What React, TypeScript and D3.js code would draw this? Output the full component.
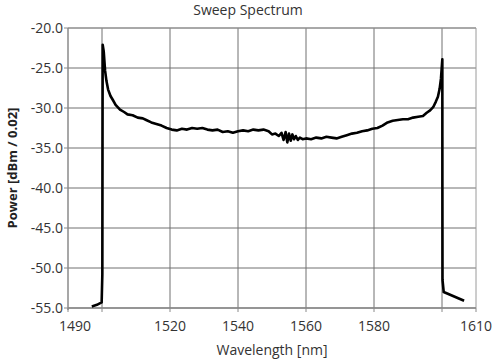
import React from "react";
import * as d3 from "d3";

const title = "Sweep Spectrum";
const xLabel = "Wavelength [nm]";
const yLabel = "Power [dBm / 0.02]";
const xTickLabels = [1490, 1520, 1540, 1560, 1580, 1610];
const xGrid = [1500, 1520, 1540, 1560, 1580, 1600];
const yTicks = [-20, -25, -30, -35, -40, -45, -50, -55];

// wavelength [nm]
const wavelength = [
  1497.0, 1498.5, 1499.9, 1500.1, 1500.15, 1500.2, 1500.5, 1500.9, 1501.3, 1501.8,
  1502.5, 1503.2, 1504.0, 1505.3, 1506.5, 1507.5, 1509.0, 1510.5, 1512.0, 1513.0,
  1514.5, 1516.0, 1517.5, 1519.0, 1520.5, 1522.0, 1523.5, 1525.0, 1526.5, 1528.0,
  1529.5, 1531.0, 1532.5, 1534.0, 1535.5, 1537.0, 1538.5, 1540.0, 1541.5, 1543.0,
  1544.5, 1546.0, 1547.5, 1549.0, 1550.0, 1551.0, 1552.0, 1552.8, 1553.4, 1554.0,
  1554.5, 1555.0, 1555.5, 1556.0, 1556.5, 1557.0, 1557.6, 1558.2, 1559.0, 1560.0,
  1561.5, 1563.0, 1564.5, 1566.0, 1567.5, 1569.0, 1570.5, 1572.0, 1573.5, 1575.0,
  1576.5, 1578.0, 1579.5, 1581.0, 1582.5, 1584.0, 1585.5, 1587.0, 1588.5, 1590.0,
  1591.5, 1593.0, 1594.4, 1595.5, 1596.5, 1597.4, 1598.2, 1598.8, 1599.3, 1599.7,
  1600.1, 1600.12, 1600.15, 1600.5, 1606.5,
];

// power [dBm]
const power = [
  -54.8, -54.6, -54.3, -50.8, -36.0, -22.1, -22.9, -25.3, -26.6, -27.7,
  -28.5, -29.0, -29.6, -30.2, -30.5, -30.8, -30.9, -31.2, -31.3, -31.5,
  -31.8, -32.0, -32.2, -32.5, -32.7, -32.8, -32.6, -32.7, -32.5, -32.6,
  -32.5, -32.7, -32.8, -32.7, -33.0, -32.9, -33.1, -32.9, -32.8, -32.9,
  -32.7, -32.8, -32.7, -32.9, -33.3, -33.2, -33.5, -33.1, -34.0, -33.0,
  -34.3, -33.2, -34.1, -33.3, -33.9, -33.5, -34.0, -33.7, -33.9, -33.8,
  -33.9, -33.7, -33.8, -33.6, -33.7, -33.8, -33.6, -33.4, -33.2, -33.1,
  -32.9, -32.8, -32.6, -32.5, -32.2, -31.8, -31.6, -31.5, -31.4, -31.4,
  -31.2, -31.1, -31.0, -30.6, -30.3, -29.9, -29.2, -28.6, -27.6, -26.3,
  -23.9, -40.0, -51.5, -53.0, -54.1,
];

const W = 500;
const H = 360;
const M = { left: 68, right: 476, top: 28, bottom: 308 };
const FONT = "'Open Sans', 'DejaVu Sans', sans-serif";

export default function App() {
  const x = d3.scaleLinear().domain([1490, 1610]).range([M.left, M.right]);
  const y = d3.scaleLinear().domain([-55, -20]).range([M.bottom, M.top]);
  const pts: [number, number][] = wavelength.map((w, i) => [w, power[i]]);
  const line = d3
    .line<[number, number]>()
    .x((d) => x(d[0]))
    .y((d) => y(d[1]));

  return (
    <svg
      width={W}
      height={H}
      style={{ position: "absolute", left: 0, top: 0, background: "#fff" }}
      fontFamily={FONT}
    >
      <rect x={0} y={0} width={W} height={H} fill="#fff" />
      <text x={248} y={15} textAnchor="middle" fontSize={14} fill="#333">
        {title}
      </text>
      {/* grid */}
      {yTicks.map((t) => (
        <line
          key={"gy" + t}
          x1={M.left}
          x2={M.right}
          y1={y(t)}
          y2={y(t)}
          stroke="#707070"
          strokeWidth={1}
        />
      ))}
      {xGrid.map((t) => (
        <line
          key={"gx" + t}
          x1={x(t)}
          x2={x(t)}
          y1={M.top}
          y2={M.bottom}
          stroke="#707070"
          strokeWidth={1}
        />
      ))}
      {/* frame */}
      <line x1={M.left} x2={M.right} y1={M.top} y2={M.top} stroke="#9a9a9a" />
      <line x1={M.right} x2={M.right} y1={M.top} y2={M.bottom} stroke="#9a9a9a" />
      <line x1={M.left} x2={M.left} y1={M.top} y2={M.bottom + 2} stroke="#8a8a8a" strokeWidth={1.5} />
      <line x1={M.left} x2={M.right} y1={M.bottom} y2={M.bottom} stroke="#8a8a8a" strokeWidth={1.5} />
      {/* y ticks */}
      {yTicks.map((t) => (
        <g key={"ty" + t}>
          <line x1={M.left - 4} x2={M.left} y1={y(t)} y2={y(t)} stroke="#8a8a8a" />
          <text
            x={M.left - 5}
            y={y(t)}
            dy="0.35em"
            textAnchor="end"
            fontSize={14}
            fill="#333"
          >
            {t.toFixed(1)}
          </text>
        </g>
      ))}
      {/* x ticks */}
      {[1490, ...xGrid, 1610].map((t) => (
        <line
          key={"tx" + t}
          x1={x(t)}
          x2={x(t)}
          y1={M.bottom}
          y2={M.bottom + 4}
          stroke="#8a8a8a"
        />
      ))}
      {xTickLabels.map((t) => (
        <text
          key={"lx" + t}
          x={t === 1490 ? x(t) + 7 : x(t)}
          y={331}
          textAnchor="middle"
          fontSize={14}
          fill="#333"
        >
          {t}
        </text>
      ))}
      <text x={272} y={355} textAnchor="middle" fontSize={14} fill="#333">
        {xLabel}
      </text>
      <text
        transform={`translate(17,168) rotate(-90)`}
        textAnchor="middle"
        fontSize={13}
        fontWeight="bold"
        fill="#222"
      >
        {yLabel}
      </text>
      {/* data */}
      <path
        d={line(pts) || ""}
        fill="none"
        stroke="#000"
        strokeWidth={2.6}
        strokeLinejoin="round"
      />
    </svg>
  );
}
